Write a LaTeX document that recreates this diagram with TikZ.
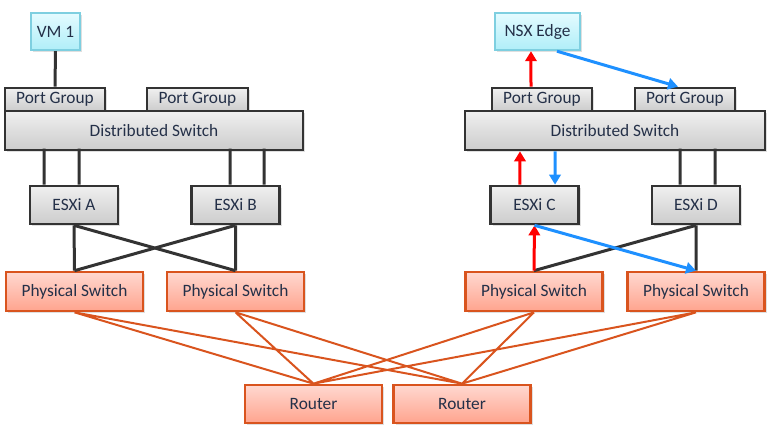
\documentclass[tikz,border=0pt]{standalone}
\usepackage{fontspec}
\setmainfont{Carlito}
\usepackage{tikz}
\usetikzlibrary{arrows.meta,shadows}
\definecolor{txtc}{RGB}{36,48,72}
\definecolor{edgec}{RGB}{51,51,51}
\definecolor{orc}{RGB}{217,84,30}
\definecolor{cyc}{RGB}{126,207,224}
\tikzset{
box/.style={draw, line width=2pt, text=txtc, font=\fontsize{13}{15}\selectfont, inner sep=0pt,
  drop shadow={opacity=0.25, shadow xshift=1.5pt, shadow yshift=-1.5pt}}, % common look of all boxes
gbox/.style={box, draw=edgec, top color=gray!12, bottom color=gray!40}, % vSphere parts
obox/.style={box, draw=orc, top color={rgb,255:red,255;green,216;blue,208}, bottom color={rgb,255:red,255;green,164;blue,142}}, % physical parts
cbox/.style={box, draw=cyc, line width=1.8pt, top color={rgb,255:red,228;green,251;blue,255}, bottom color={rgb,255:red,176;green,238;blue,248}}, % VMs
link/.style={draw=edgec, line width=2.25pt}, % dark links
wire/.style={draw=orc, line width=1.5pt}, % uplinks to routers
redarrow/.style={draw=red, line width=2.25pt, -{Triangle[width=8.5pt,length=7.5pt]}},
bluearrow/.style={draw={rgb,255:red,30;green,144;blue,255}, line width=2.25pt, -{Triangle[width=8.5pt,length=7.5pt]}},
}
\begin{document}
\begin{tikzpicture}[x=0.75pt, y=-0.75pt]
        \useasboundingbox (0,0) rectangle (772,440);
        % left site
        \node[cbox, minimum width=36.75pt, minimum height=27.75pt] at (55.5,31.5) (vm1) {VM 1};
        \node[gbox, minimum width=75pt, minimum height=17.25pt] at (55,99.5) (pgA) {Port Group};
        \node[gbox, minimum width=75.75pt, minimum height=17.25pt] at (197.5,99.5) (pgB) {Port Group};
        \node[gbox, minimum width=223.5pt, minimum height=29.25pt] at (154,130.5) (dsL) {Distributed Switch};
        \node[gbox, minimum width=66pt, minimum height=28.5pt] at (74,205) (esxA) {ESXi A};
        \node[gbox, minimum width=66pt, minimum height=28.5pt] at (235.5,205) (esxB) {ESXi B};
        \node[obox, minimum width=102.75pt, minimum height=29.25pt] at (74.5,291.5) (psA) {Physical Switch};
        \node[obox, minimum width=102.75pt, minimum height=29.25pt] at (235.5,291.5) (psB) {Physical Switch};
        % right site
        \node[cbox, minimum width=63.75pt, minimum height=27.75pt] at (537.5,31.5) (nsx) {NSX Edge};
        \node[gbox, minimum width=75pt, minimum height=17.25pt] at (542,99.5) (pgC) {Port Group};
        \node[gbox, minimum width=75pt, minimum height=17.25pt] at (685,99.5) (pgD) {Port Group};
        \node[gbox, minimum width=225pt, minimum height=29.25pt] at (615,130.5) (dsR) {Distributed Switch};
        \node[gbox, minimum width=66pt, minimum height=28.5pt] at (534.5,205) (esxC) {ESXi C};
        \node[gbox, minimum width=66pt, minimum height=28.5pt] at (696,205) (esxD) {ESXi D};
        \node[obox, minimum width=102.75pt, minimum height=29.25pt] at (534,291.5) (psC) {Physical Switch};
        \node[obox, minimum width=102.75pt, minimum height=29.25pt] at (696,291.5) (psD) {Physical Switch};
        % routers
        \node[obox, minimum width=102.75pt, minimum height=28.5pt] at (313.5,404) (r1) {Router};
        \node[obox, minimum width=102.75pt, minimum height=28.5pt] at (462,404) (r2) {Router};
        \draw[wire]
        (psA.south) -- (r1.north) (psA.south) -- (r2.north)
        (psB.south) -- (r1.north) (psB.south) -- (r2.north)
        (psC.south) -- (r1.north) (psC.south) -- (r2.north)
        (psD.south) -- (r1.north) (psD.south) -- (r2.north)
        ;
        \draw[link]
        (vm1.south) -- (pgA.north)
        ([xshift=-22.5pt]esxA.north) -- ++(0,-36)
        ([xshift=3.75pt]esxA.north) -- ++(0,-36)
        ([xshift=-4.1pt]esxB.north) -- ++(0,-36)
        ([xshift=21.4pt]esxB.north) -- ++(0,-36)
        ([xshift=-12pt]esxD.north) -- ++(0,-36)
        ([xshift=14.25pt]esxD.north) -- ++(0,-36)
        (esxA.south) -- (psA.north) (esxA.south) -- (psB.north)
        (esxB.south) -- (psA.north) (esxB.south) -- (psB.north)
        (psC.north) -- (esxD.south) (esxD.south) -- (psD.north)
        ;
        % traffic path
        \draw[redarrow] ([xshift=-8.25pt]pgC.north) -- ([xshift=-4.9pt]nsx.south);
        \draw[bluearrow] ([xshift=14.6pt]nsx.south) -- ([xshift=-5.25pt]pgD.north);
        \draw[redarrow] ([xshift=-10.9pt]esxC.north) -- ([xshift=-71.25pt]dsR.south);
        \draw[bluearrow] ([xshift=-45pt]dsR.south) -- ([xshift=15.4pt]esxC.north);
        \draw[redarrow] (psC.north) -- (esxC.south);
        \draw[bluearrow] (esxC.south) -- (psD.north);
    \end{tikzpicture}
\end{document}
